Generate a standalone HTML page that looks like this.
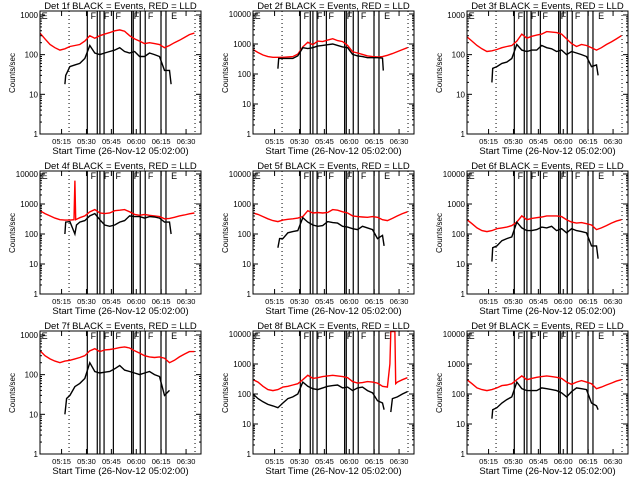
<!DOCTYPE html>
<html><head><meta charset="utf-8">
<style>
html,body{margin:0;padding:0;background:#fff;}
svg{display:block;font-family:"Liberation Sans",sans-serif;}
</style></head>
<body>
<svg id="c" width="640" height="480" viewBox="0 0 640 480"></svg>
<script>
const detNames=["1f","2f","3f","4f","5f","6f","7f","8f","9f"];
const yDecades=[3,4,3,4,4,4,3,4,4];
const xTickMinutes=[13,28,43,58,73,88];
const xTickLabels=["05:15","05:30","05:45","06:00","06:15","06:30"];
const dottedMinutes=[17.5,93.4];
const solidMinutes=[28.5,34.5,36.1,38.6,44.2,55.2,56.2,60.4,63.4,72.9,75.9];
const flagMinutes=[1,30.5,38.5,45.5,56.5,65,79];
const flagLabels=["E","F","F","F","F","F","E"];
const TR=[0,3,6,9,12,15,18,21,24,27,30,33,36,39,42,45,48,51,54,57,60,63,66,69,72,75,78,81,84,87,90,93];
const red1=[350,250,180,150,130,140,160,170,180,220,300,260,300,330,360,400,420,390,300,250,220,190,200,190,180,150,170,200,230,270,320,350];
const red2=[650,520,430,380,360,360,360,370,380,460,800,1150,950,1250,1200,1350,1500,1300,1200,900,550,500,450,400,380,370,380,420,480,560,650,750];
const red3=[280,220,170,140,120,125,135,150,160,170,220,330,260,290,310,330,380,370,360,330,250,190,160,180,170,150,130,150,180,210,250,300];
const red4T=[0,3,6,9,12,15,18,20.5,21,21.5,24,27,30,33,36,39,42,45,48,51,54,57,60,63,66,69,72,75,78,81,84,87,90,93];
const red4=[600,480,400,340,300,290,290,300,6000,300,350,400,550,650,500,480,500,600,620,650,550,450,420,450,420,400,380,320,330,360,400,430,470,500];
const red5=[500,450,380,320,280,260,290,310,320,340,380,600,500,520,500,520,650,620,550,500,400,380,370,360,380,360,300,280,330,400,480,550];
const red6=[300,220,160,130,120,130,150,160,170,190,250,400,300,330,350,370,400,400,400,380,300,250,230,240,220,200,140,160,190,230,270,300];
const red7=[400,300,250,220,200,220,230,250,270,300,400,450,380,420,430,450,480,500,470,400,350,300,280,270,280,260,200,230,280,330,380,380];
const red8T=[0,3,6,9,12,15,18,21,24,27,30,33,36,39,42,45,48,51,54,57,60,63,66,69,72,75,78,81,82.5,83,85.5,86,87,90,93];
const red8=[300,250,180,140,130,140,170,180,200,220,300,420,330,350,380,400,420,400,380,350,260,230,240,260,250,230,180,170,1000,12000,12000,220,250,300,350];
const red9=[300,220,160,140,130,140,160,190,200,220,300,400,300,330,360,380,400,380,360,330,250,210,250,280,250,220,150,170,200,230,270,300];
const blk1T=[15,15.5,18,21,24,27,30,33,36,39,42,45,48,51,54,57,60,63,66,69,72,75,78,79];
const blk1=[18,30,50,55,60,80,170,110,100,110,120,130,150,120,110,120,90,90,110,100,90,40,40,18];
const blk2T=[15,15.5,18,21,24,27,30,33,36,39,42,45,48,51,54,57,60,63,66,69,72,75,78,78.5];
const blk2=[150,330,330,330,330,400,750,700,750,850,900,950,1000,900,800,750,450,400,380,350,350,350,340,130];
const blk3T=[15,15.5,18,21,24,27,30,33,36,39,42,45,48,51,54,57,60,63,66,69,72,75,78,79];
const blk3=[20,45,50,60,65,80,180,130,120,130,130,170,150,140,120,130,100,120,110,100,90,50,55,30];
const blk4T=[15,15.5,18,21,22,24,27,30,33,36,39,42,45,48,51,54,57,60,63,66,69,72,75,78,79];
const blk4=[100,250,260,100,200,250,280,400,480,300,200,180,200,250,280,400,380,380,340,380,370,340,250,250,100];
const blk5T=[15,16,18,21,24,27,30,33,36,39,42,45,48,51,54,57,60,63,66,69,72,75,78,79];
const blk5=[35,70,70,110,120,130,350,250,200,180,190,260,240,230,180,170,150,140,180,160,140,70,90,40];
const blk6T=[15,15.5,18,21,24,27,30,33,36,39,42,45,48,51,54,57,60,63,66,69,72,75,78,79];
const blk6=[12,35,40,60,70,80,250,160,130,130,140,170,160,180,130,150,110,150,130,120,110,40,40,15];
const blk7T=[15,16,18,21,24,27,30,33,36,39,42,45,48,51,54,57,60,63,66,69,72,75,78];
const blk7=[10,25,30,50,60,80,200,120,110,115,120,140,170,130,120,110,100,110,120,100,90,30,40];
const blk8T=[0,3,6,9,12,15,18,21,24,27,30,33,36,39,42,45,48,51,54,57,60,63,66,69,72,75,78,79,80,83,84,87,90,93];
const blk8=[100,70,55,45,40,35,50,70,80,100,250,180,150,140,160,180,190,200,160,170,130,160,170,130,110,60,50,30,null,25,70,80,100,120];
const blk9T=[15,15.5,18,21,24,27,30,33,36,39,42,45,48,51,54,57,60,63,66,69,72,75,78,79];
const blk9=[15,30,35,50,65,80,250,150,130,130,130,160,150,140,130,110,80,120,160,150,140,50,40,30];

const redT=[TR,TR,TR,red4T,TR,TR,TR,red8T,TR];
const redV=[red1,red2,red3,red4,red5,red6,red7,red8,red9];
const blkT=[blk1T,blk2T,blk3T,blk4T,blk5T,blk6T,blk7T,blk8T,blk9T];
const blkV=[blk1,blk2,blk3,blk4,blk5,blk6,blk7,blk8,blk9];

const NS="http://www.w3.org/2000/svg";
const svg=document.getElementById('c');
function mk(tag,attrs,parent){const e=document.createElementNS(NS,tag);for(const k in attrs)e.setAttribute(k,attrs[k]);(parent||svg).appendChild(e);return e;}
const colX=[0,213,427], rowY=[0,160,320];
const BW=161, BT=11, BB=134, BL=40, TMAX=97;

for(let p=0;p<9;p++){
  const ox=colX[p%3], oy=rowY[Math.floor(p/3)];
  const g=mk('g',{});
  
  
  const top=yDecades[p]+0.1;
  const x=t=>ox+BL+t/TMAX*BW;
  const y=v=>oy+BB-(Math.log10(v)/top)*(BB-BT);
  dottedMinutes.forEach(t=>{const l=mk('line',{x1:x(t),x2:x(t),y1:oy+BT,y2:oy+BB,stroke:'#000','stroke-width':1,'stroke-dasharray':'1,3'},g);
    });
  solidMinutes.forEach(t=>{const l=mk('line',{x1:x(t),x2:x(t),y1:oy+BT,y2:oy+BB,stroke:'#000','stroke-width':1.2},g);
    });
  flagMinutes.forEach((t,i)=>{const tx=mk('text',{x:x(t),y:oy+BT+8,'font-size':9},g);tx.textContent=flagLabels[i];
    });
  function path(T,V,color,name){
    let d='',pen=false;
    for(let i=0;i<T.length;i++){ if(V[i]==null){pen=false;continue;}
      const px=x(T[i]).toFixed(1), py=Math.max(oy+BT,y(V[i])).toFixed(1);
      d+=(pen?'L':'M')+px+' '+py; pen=true;
    }
    const e=mk('path',{d:d,fill:'none',stroke:color,'stroke-width':1.4},g);
    
  }
  path(redT[p],redV[p],'#ff0000','red-lld-series');
  path(blkT[p],blkV[p],'#000','black-events-series');
  const r=mk('rect',{x:ox+BL,y:oy+BT,width:BW,height:BB-BT,fill:'none',stroke:'#000','stroke-width':1},g);
  
  for(let d=0;d<=yDecades[p];d++){
    const yy=y(Math.pow(10,d));
    mk('line',{x1:ox+BL,x2:ox+BL+5,y1:yy,y2:yy,stroke:'#000'},g);
    mk('line',{x1:ox+BL+BW-5,x2:ox+BL+BW,y1:yy,y2:yy,stroke:'#000'},g);
    const tl=mk('text',{x:ox+BL-2,y:yy+3,'font-size':8,'text-anchor':'end'},g);tl.textContent=String(Math.pow(10,d));
    
    if(d<yDecades[p]) for(let m=2;m<10;m++){const ym=y(m*Math.pow(10,d));
      mk('line',{x1:ox+BL,x2:ox+BL+2,y1:ym,y2:ym,stroke:'#000'},g);
      mk('line',{x1:ox+BL+BW-2,x2:ox+BL+BW,y1:ym,y2:ym,stroke:'#000'},g);}
  }
  xTickMinutes.forEach((t,i)=>{const xx=x(t);
    mk('line',{x1:xx,x2:xx,y1:oy+BB,y2:oy+BB-5,stroke:'#000'},g);
    mk('line',{x1:xx,x2:xx,y1:oy+BT,y2:oy+BT+5,stroke:'#000'},g);
    const tl=mk('text',{x:xx,y:oy+BB+10,'font-size':7.5,'text-anchor':'middle'},g);tl.textContent=xTickLabels[i];
    });
  const tt=mk('text',{x:ox+BL+BW/2,y:oy+BT-2,'font-size':9.5,'text-anchor':'middle'},g);
  tt.textContent='Det '+detNames[p]+' BLACK = Events, RED = LLD';
  
  const xt=mk('text',{x:ox+BL+BW/2,y:oy+BB+20,'font-size':9.5,'text-anchor':'middle'},g);
  xt.textContent='Start Time (26-Nov-12 05:02:00)';
  
  const yt=mk('text',{x:0,y:0,'font-size':8,'text-anchor':'middle',transform:'translate('+(ox+15)+','+(oy+73)+') rotate(-90)'},g);
  yt.textContent='Counts/sec';
  
}
</script>
</body></html>
